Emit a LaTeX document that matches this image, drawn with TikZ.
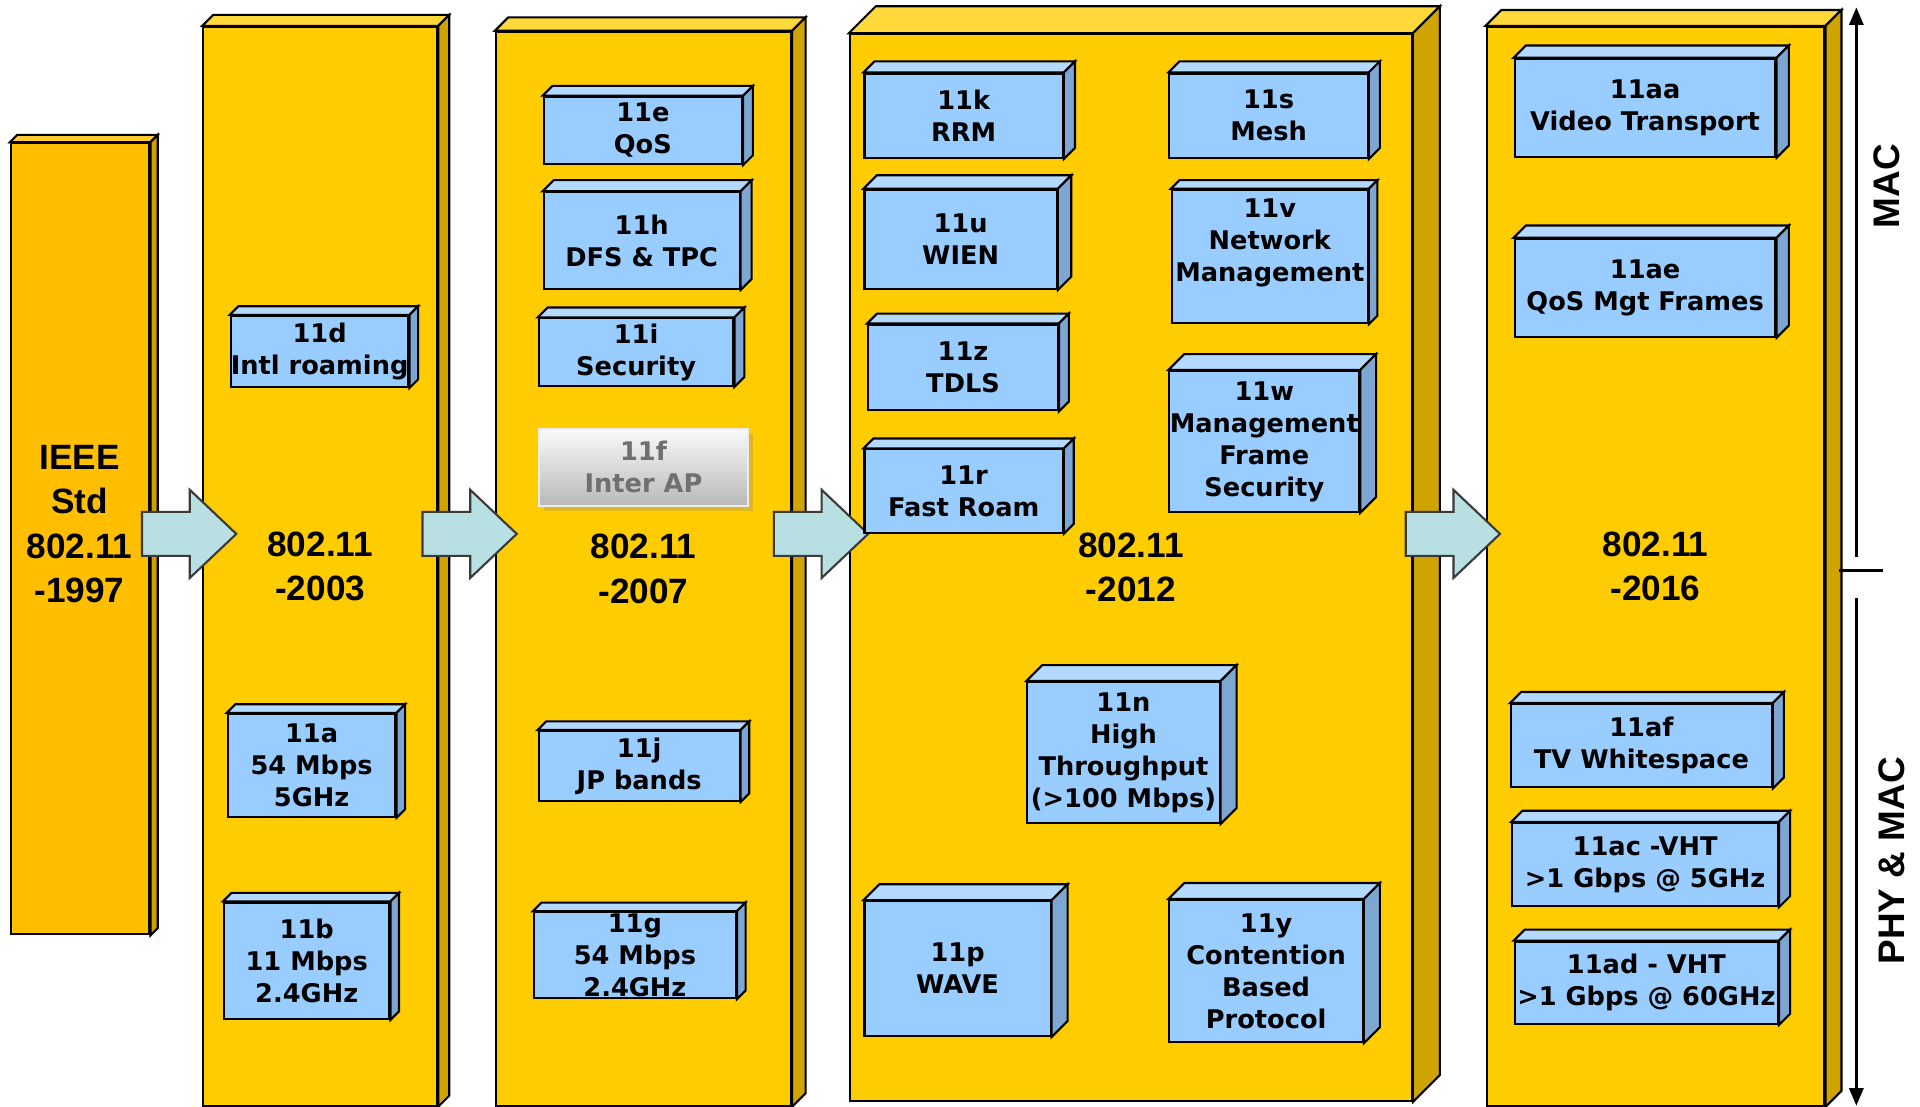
\documentclass[tikz,border=0pt]{standalone}
\usepackage{fontspec}
\setmainfont{DejaVu Sans}
\newfontfamily\yearfont{Liberation Sans}
\usepackage{tikz}
\usetikzlibrary{positioning}
\usetikzlibrary{arrows.meta}
\usetikzlibrary{shadows}

\definecolor{colfront}{HTML}{FFCC00}
\definecolor{coltop}{HTML}{FFD83A}
\definecolor{colside}{HTML}{CFA400}
\definecolor{oldfront}{HTML}{FFBF00}
\definecolor{oldtop}{HTML}{FFCB33}
\definecolor{oldside}{HTML}{D19F00}
\definecolor{stdfront}{HTML}{99CCFF}
\definecolor{stdtop}{HTML}{B3D9FF}
\definecolor{stdside}{HTML}{7DA6D3}
\definecolor{arrowfill}{HTML}{B8DFE2}
\definecolor{arrowline}{HTML}{3A3A3A}
\definecolor{drafttext}{HTML}{707070}

% top and side faces of a node: node, depth, colour prefix
\newcommand{\slab}[3]{%
    \draw[fill=#3top] (#1.north west) -- ++(#2,-#2)
        -- ([shift={(#2,-#2)}]#1.north east) -- (#1.north east) -- cycle;
    \draw[fill=#3side] (#1.north east) -- ++(#2,-#2)
        -- ([shift={(#2,-#2)}]#1.south east) -- (#1.south east) -- cycle;
}

\begin{document}
\begin{tikzpicture}[
    x=0.012245cm,
    y=-0.012245cm,
    line width=0.6pt,
    span/.style n args={4}{
        minimum width={(#3-#1)*0.012245cm},
        minimum height={(#4-#2)*0.012245cm},
        at={({(#1+#3)/2},{(#2+#4)/2})}
    },
    yearlabel/.style={
        align=center,
        font=\yearfont\bfseries\fontsize{10}{12.6}\selectfont
    },
    column/.style={
        yearlabel,
        draw,
        fill=colfront,
        inner sep=0pt
    },
    stdbox/.style={
        draw,
        fill=stdfront,
        inner sep=0pt,
        align=center,
        font=\bfseries\fontsize{7.3}{9.1}\selectfont
    },
    draftbox/.style={
        draw=white!85!gray,
        top color=white!96!gray,
        bottom color=gray!55,
        text=drafttext,
        inner sep=0pt,
        align=center,
        drop shadow={shadow xshift=1.5pt,shadow yshift=-1.5pt,opacity=0.25},
        font=\bfseries\fontsize{7.3}{9.1}\selectfont
    },
    blockarrow/.style={
        draw=arrowline,
        fill=arrowfill
    },
    axislabel/.style={
        rotate=90,
        font=\yearfont\bfseries\fontsize{10.5}{12}\selectfont
    },
    axisarrow/.style={
        line width=0.8pt,
        -{Triangle[width=4pt,length=5pt]}
    }
]
    \useasboundingbox (0,0) rectangle (1568,904);

    % releases
    \node[column, fill=oldfront, span={9}{117}{122}{763}] (std97) {};
    \slab{std97}{6}{old}
    \node[yearlabel] (lbl97) at (65,428) {IEEE\\Std\\802.11\\-1997};

    \node[column, span={166}{22}{357}{903}] (std03) {802.11\\-2003};
    \slab{std03}{9}{col}

    \node[column, span={405}{26}{646}{903}] (std07) {802.11\\-2007};
    \slab{std07}{11}{col}

    \node[column, span={694}{28}{1153}{899}] (std12) {802.11\\-2012};
    \slab{std12}{22}{col}

    \node[column, span={1214}{22}{1490}{903}] (std16) {802.11\\-2016};
    \slab{std16}{13}{col}

    % block arrows
    \draw[blockarrow] (116,418) -- ++(39,0) -- ++(0,-18) -- ++(38,36)
        -- ++(-38,36) -- ++(0,-18) -- ++(-39,0) -- cycle;
    \draw[blockarrow] (345,418) -- ++(39,0) -- ++(0,-18) -- ++(38,36)
        -- ++(-38,36) -- ++(0,-18) -- ++(-39,0) -- cycle;
    \draw[blockarrow] (632,418) -- ++(39,0) -- ++(0,-18) -- ++(38,36)
        -- ++(-38,36) -- ++(0,-18) -- ++(-39,0) -- cycle;
    \draw[blockarrow] (1148,418) -- ++(39,0) -- ++(0,-18) -- ++(38,36)
        -- ++(-38,36) -- ++(0,-18) -- ++(-39,0) -- cycle;

    % 2003
    \node[stdbox, span={192}{258}{330}{316}] (s11d) {11d\\Intl roaming};
    \slab{s11d}{7}{std}
    \node[stdbox, span={186}{583}{323}{667}] (s11a) {11a\\54 Mbps\\5GHz};
    \slab{s11a}{7}{std}
    \node[stdbox, span={183}{737}{318}{832}] (s11b) {11b\\11 Mbps\\2.4GHz};
    \slab{s11b}{7}{std}

    % 2007
    \node[stdbox, span={444}{79}{606}{134}] (s11e) {11e\\QoS};
    \slab{s11e}{8}{std}
    \node[stdbox, span={444}{157}{604}{236}] (s11h) {11h\\DFS \& TPC};
    \slab{s11h}{9}{std}
    \node[stdbox, span={440}{260}{599}{315}] (s11i) {11i\\Security};
    \slab{s11i}{8}{std}
    \node[draftbox, span={440}{350}{611}{413}] (s11f) {11f\\Inter AP};
    \node[stdbox, span={440}{597}{604}{654}] (s11j) {11j\\JP bands};
    \slab{s11j}{7}{std}
    \node[stdbox, span={436}{745}{601}{815}] (s11g) {11g\\54 Mbps\\2.4GHz};
    \slab{s11g}{7}{std}

    % 2012
    \node[stdbox, span={706}{60}{868}{129}] (s11k) {11k\\RRM};
    \slab{s11k}{9}{std}
    \node[stdbox, span={955}{60}{1117}{129}] (s11s) {11s\\Mesh};
    \slab{s11s}{9}{std}
    \node[stdbox, span={706}{155}{863}{236}] (s11u) {11u\\WIEN};
    \slab{s11u}{11}{std}
    \node[stdbox, span={957}{155}{1117}{264}] (s11v)
        {11v\\Network\\Management\\\phantom{M}};
    \slab{s11v}{7}{std}
    \node[stdbox, span={709}{265}{864}{335}] (s11z) {11z\\TDLS};
    \slab{s11z}{8}{std}
    \node[stdbox, span={955}{303}{1110}{418}] (s11w)
        {11w\\Management\\Frame\\Security};
    \slab{s11w}{13}{std}
    \node[stdbox, span={706}{367}{868}{435}] (s11r) {11r\\Fast Roam};
    \slab{s11r}{8}{std}
    \node[stdbox, span={839}{557}{996}{672}] (s11n)
        {11n\\High\\Throughput\\(>100 Mbps)};
    \slab{s11n}{13}{std}
    \node[stdbox, span={706}{736}{858}{846}] (s11p) {11p\\WAVE};
    \slab{s11p}{13}{std}
    \node[stdbox, span={955}{735}{1113}{851}] (s11y)
        {11y\\Contention\\Based\\Protocol};
    \slab{s11y}{13}{std}

    % 2016
    \node[stdbox, span={1237}{48}{1450}{128}] (s11aa) {11aa\\Video Transport};
    \slab{s11aa}{10}{std}
    \node[stdbox, span={1237}{195}{1450}{275}] (s11ae) {11ae\\QoS Mgt Frames};
    \slab{s11ae}{10}{std}
    \node[stdbox, span={1234}{575}{1447}{643}] (s11af) {11af\\TV Whitespace};
    \slab{s11af}{9}{std}
    \node[stdbox, span={1235}{672}{1452}{740}] (s11ac)
        {11ac -VHT\\>1 Gbps @ 5GHz};
    \slab{s11ac}{9}{std}
    \node[stdbox, span={1237}{769}{1452}{836}] (s11ad)
        {11ad - VHT\\>1 Gbps @ 60GHz};
    \slab{s11ad}{9}{std}

    % layers
    \coordinate (macbase) at (1516,455);
    \coordinate (mactip) at (1516,6);
    \coordinate (splitl) at (1502,466);
    \coordinate (splitr) at (1538,466);
    \coordinate (phybase) at (1516,488);
    \coordinate (phytip) at (1516,903);

    \draw[axisarrow] (macbase) -- (mactip);
    \draw[line width=0.8pt] (splitl) -- (splitr);
    \draw[axisarrow] (phybase) -- (phytip);

    \node[axislabel] (mac) at (1541,152) {MAC};
    \node[axislabel] (phymac) at (1545,703) {PHY \& MAC};

\end{tikzpicture}
\end{document}
